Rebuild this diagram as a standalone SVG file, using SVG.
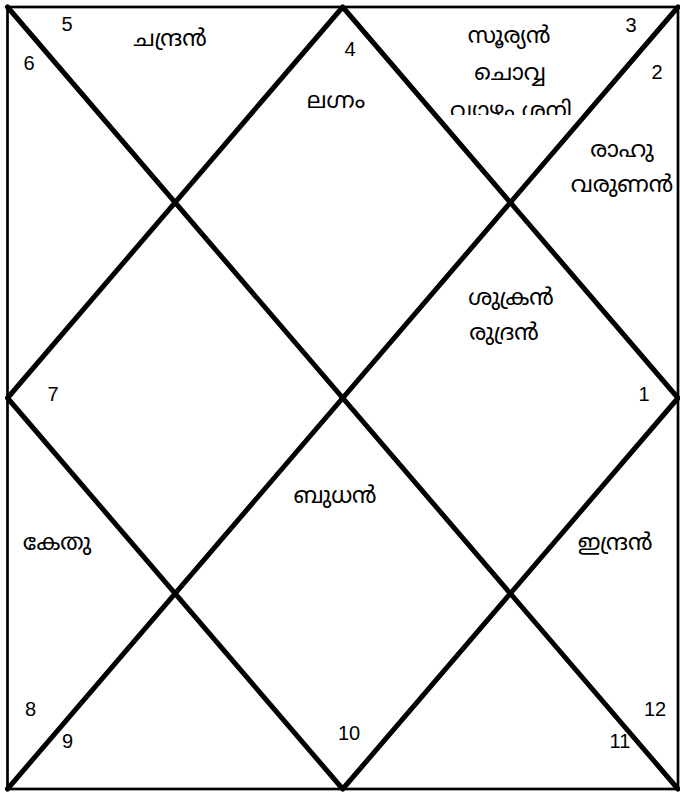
<svg xmlns="http://www.w3.org/2000/svg" width="680" height="793" viewBox="0 0 680 793">
<style>
.num{font-family:"Liberation Sans",Arial,sans-serif;font-size:20px;fill:#000;text-anchor:middle}
.pl{font-family:"Noto Sans Malayalam","Noto Sans","DejaVu Sans",sans-serif;font-size:23px;fill:#000;text-anchor:middle}
.border{fill:none;stroke:#000;stroke-width:2.7}
.diag{stroke:#000;stroke-width:5;stroke-linecap:round;stroke-linejoin:round;fill:none}
</style>
<defs>
<clipPath id="clip3"><rect x="0" y="0" width="680" height="115"/></clipPath>
</defs>
<rect width="680" height="793" fill="#fff"/>
<g id="connectors">
<rect class="border" x="7.5" y="7" width="670.5" height="782"/>
<line class="diag" x1="7.5" y1="7" x2="678" y2="789"/>
<line class="diag" x1="678" y1="7" x2="7.5" y2="789"/>
<polygon class="diag" points="342.7,7 678,398 342.7,789 7.5,398"/>
</g>
<g id="house1"><text class="num" x="644" y="401">1</text>
<text class="pl" x="511" y="305">ശുക്രൻ</text><text class="pl" x="504" y="340">രുദ്രൻ</text></g>
<g id="house2"><text class="num" x="657" y="79">2</text>
<text class="pl" x="622" y="157">രാഹു</text><text class="pl" x="622" y="192">വരുണൻ</text></g>
<g id="house3"><text class="num" x="631" y="32">3</text>
<text class="pl" x="509" y="43">സൂര്യൻ</text><text class="pl" x="510" y="80">ചൊവ്വ</text>
<text class="pl" x="511" y="118" clip-path="url(#clip3)">വ്യാഴം ശനി</text></g>
<g id="house4"><text class="num" x="350" y="56">4</text>
<text class="pl" x="336" y="108">ലഗ്നം</text></g>
<g id="house5"><text class="num" x="67" y="31">5</text>
<text class="pl" x="170" y="46">ചന്ദ്രൻ</text></g>
<g id="house6"><text class="num" x="29" y="70">6</text>
<text class="pl" x="57" y="550">കേതു</text></g>
<g id="house7"><text class="num" x="53" y="401">7</text></g>
<g id="house8"><text class="num" x="30.5" y="716">8</text></g>
<g id="house9"><text class="num" x="67.5" y="748">9</text></g>
<g id="house10"><text class="num" x="349" y="740">10</text>
<text class="pl" x="335" y="503">ബുധൻ</text></g>
<g id="house11"><text class="num" x="620" y="748">11</text></g>
<g id="house12"><text class="num" x="655" y="716">12</text>
<text class="pl" x="615" y="550">ഇന്ദ്രൻ</text></g>
</svg>
